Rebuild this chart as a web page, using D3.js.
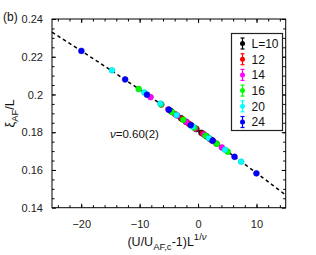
<!DOCTYPE html>
<html>
<head>
<meta charset="utf-8">
<script src="https://cdn.jsdelivr.net/npm/d3@7"></script>
<style>
    body { margin: 0; background: #fff; }
    svg { display: block; font-family: "Liberation Sans", Arial, sans-serif; }
</style>
</head>
<body>
<svg id="chart" width="316" height="255"></svg>
<script>
// system sizes and their colours (MATLAB style)
var sizes = [10, 12, 14, 16, 20, 24];
var labels = ['L=10', '12', '14', '16', '20', '24'];
var colors = ['#000000', '#ff0000', '#ff00ff', '#00ff00', '#00ffff', '#0000ff'];

// collapsed data, x = (U/U_AF,c - 1) L^(1/nu), y = xi_AF / L
var x10 = [-4.64, -2.90, -2.03, -1.16, -0.29, 0.58, 1.45, 2.32];
var y10 = [0.1912, 0.1874, 0.1855, 0.1836, 0.1817, 0.1797, 0.1778, 0.1759];
var x12 = [-6.29, -3.93, -2.75, -1.57, -0.39, 0.79, 1.97, 3.15];
var y12 = [0.1947, 0.1896, 0.1871, 0.1845, 0.1819, 0.1793, 0.1766, 0.1740];
var x14 = [-8.13, -5.08, -3.56, -2.03, -0.51, 1.02, 2.54, 4.07];
var y14 = [0.1986, 0.1921, 0.1888, 0.1855, 0.1821, 0.1788, 0.1754, 0.1719];
var x16 = [-10.16, -6.35, -4.45, -2.54, -0.64, 1.27, 3.18, 5.08];
var y16 = [0.2029, 0.1948, 0.1907, 0.1866, 0.1824, 0.1782, 0.1739, 0.1697];
var x20 = [-14.74, -9.21, -6.45, -3.69, -0.92, 1.84, 4.61, 7.37];
var y20 = [0.2128, 0.2011, 0.1952, 0.1891, 0.1830, 0.1769, 0.1707, 0.1644];
var x24 = [-19.97, -12.48, -8.74, -4.99, -1.25, 2.50, 6.24, 9.99];
var y24 = [0.2231, 0.2080, 0.1999, 0.1919, 0.1838, 0.1755, 0.1670, 0.1582];

// scaling fit (dashed curve)
var fitX = [-25, -20, -15, -10, -5, 0, 5, 10, 15];
var fitY = [0.2330, 0.2231, 0.2130, 0.2026, 0.1919, 0.1810, 0.1698, 0.1584, 0.1467];

var xTicks = [-20, -10, 0, 10];
var yTicks = [0.14, 0.16, 0.18, 0.2, 0.22, 0.24];
var yTickLabels = ['0.14', '0.16', '0.18', '0.2', '0.22', '0.24'];

var series = [
    {x: x10, y: y10}, {x: x12, y: y12}, {x: x14, y: y14},
    {x: x16, y: y16}, {x: x20, y: y20}, {x: x24, y: y24}
];

var svg = d3.select('#chart');
var pLeft = 52, pRight = 285.7, pTop = 19, pBottom = 207.7;

var x = d3.scaleLinear().domain([-25, 15]).range([pLeft, pRight]);
var y = d3.scaleLinear().domain([0.14, 0.24]).range([pBottom, pTop]);

function styleAxis(g) {
    g.select('.domain').remove();
    g.selectAll('line').attr('stroke', '#000').attr('stroke-width', 1);
    g.selectAll('text').attr('font-size', 11).attr('font-family', '"Liberation Sans", Arial, sans-serif').attr('fill', '#222');
}

var minorX = d3.range(-24, 15, 2);
var minorY = d3.range(0.145, 0.2401, 0.005);

// minor ticks, all four sides
svg.append('g').attr('transform', 'translate(0,' + pBottom + ')')
    .call(d3.axisBottom(x).tickValues(minorX).tickSize(-2.5).tickFormat('')).call(styleAxis);
svg.append('g').attr('transform', 'translate(0,' + pTop + ')')
    .call(d3.axisTop(x).tickValues(minorX).tickSize(-2.5).tickFormat('')).call(styleAxis);
svg.append('g').attr('transform', 'translate(' + pLeft + ',0)')
    .call(d3.axisLeft(y).tickValues(minorY).tickSize(-2.5).tickFormat('')).call(styleAxis);
svg.append('g').attr('transform', 'translate(' + pRight + ',0)')
    .call(d3.axisRight(y).tickValues(minorY).tickSize(-2.5).tickFormat('')).call(styleAxis);

// major ticks
svg.append('g').attr('transform', 'translate(0,' + pBottom + ')')
    .call(d3.axisBottom(x).tickValues(xTicks).tickSize(-4).tickPadding(13).tickFormat(d3.format('d')))
    .call(styleAxis);
svg.append('g').attr('transform', 'translate(0,' + pTop + ')')
    .call(d3.axisTop(x).tickValues(xTicks).tickSize(-4).tickFormat('')).call(styleAxis);
svg.append('g').attr('transform', 'translate(' + pLeft + ',0)')
    .call(d3.axisLeft(y).tickValues(yTicks).tickSize(-4).tickPadding(9)
        .tickFormat(function (d, i) { return yTickLabels[i]; }))
    .call(styleAxis);
svg.append('g').attr('transform', 'translate(' + pRight + ',0)')
    .call(d3.axisRight(y).tickValues(yTicks).tickSize(-4).tickFormat('')).call(styleAxis);

// frame
svg.append('rect')
    .attr('x', pLeft).attr('y', pTop)
    .attr('width', pRight - pLeft).attr('height', pBottom - pTop)
    .attr('fill', 'none').attr('stroke', '#000').attr('stroke-width', 1);

// fit line
var line = d3.line().curve(d3.curveMonotoneX)
    .x(function (d) { return x(d[0]); })
    .y(function (d) { return y(d[1]); });
svg.append('path')
    .datum(d3.zip(fitX, fitY))
    .attr('d', line)
    .attr('fill', 'none')
    .attr('stroke', '#000')
    .attr('stroke-width', 1.5)
    .attr('stroke-dasharray', '3.5,3');

// data points
series.forEach(function (s, i) {
    svg.append('g').selectAll('circle')
        .data(d3.zip(s.x, s.y))
        .enter().append('circle')
        .attr('cx', function (d) { return x(d[0]); })
        .attr('cy', function (d) { return y(d[1]); })
        .attr('r', 2.9)
        .attr('fill', colors[i])
        .attr('stroke', d3.color(colors[i]).darker(0.6))
        .attr('stroke-width', 0.6);
});

// legend
var lg = svg.append('g');
lg.append('rect')
    .attr('x', 231.5).attr('y', 33.5).attr('width', 51).attr('height', 97)
    .attr('fill', '#fff').attr('stroke', '#222').attr('stroke-width', 1.2);
var item = lg.selectAll('.item')
    .data(sizes)
    .enter().append('g')
    .attr('transform', function (d, i) { return 'translate(242.5,' + (43.5 + i * 15.7) + ')'; });
item.append('line')
    .attr('y1', -5.5).attr('y2', 5.5)
    .attr('stroke', function (d, i) { return colors[i]; }).attr('stroke-width', 1.2);
item.append('line')
    .attr('x1', -2).attr('x2', 2).attr('y1', -5.5).attr('y2', -5.5)
    .attr('stroke', function (d, i) { return colors[i]; }).attr('stroke-width', 1.2);
item.append('line')
    .attr('x1', -2).attr('x2', 2).attr('y1', 5.5).attr('y2', 5.5)
    .attr('stroke', function (d, i) { return colors[i]; }).attr('stroke-width', 1.2);
item.append('circle')
    .attr('r', 2.5)
    .attr('fill', function (d, i) { return colors[i]; });
item.append('text')
    .attr('x', 9).attr('y', 4.3)
    .attr('font-size', 12).attr('fill', '#111')
    .text(function (d, i) { return labels[i]; });

// panel label and annotation
svg.append('text').attr('x', 3).attr('y', 21).attr('font-size', 12).attr('fill', '#111').text('(b)');

var ann = svg.append('text').attr('x', 110).attr('y', 138).attr('font-size', 11.5).attr('fill', '#111');
ann.append('tspan').attr('font-style', 'italic').text('ν');
ann.append('tspan').text('=0.60(2)');

// x label
var xl = svg.append('text').attr('x', 167).attr('y', 246).attr('text-anchor', 'middle')
    .attr('font-size', 12.5).attr('fill', '#111');
xl.append('tspan').text('(U/U');
xl.append('tspan').attr('dy', 3.5).attr('font-size', 9.5).text('AF,c');
xl.append('tspan').attr('dy', -3.5).text('-1)L');
xl.append('tspan').attr('dy', -6).attr('font-size', 9.5).text('1/');
xl.append('tspan').attr('font-size', 9.5).attr('font-style', 'italic').text('ν');

// y label
var yl = svg.append('text')
    .attr('transform', 'translate(14,' + ((pTop + pBottom) / 2) + ') rotate(-90)')
    .attr('text-anchor', 'middle').attr('font-size', 12.5).attr('fill', '#111');
yl.append('tspan').text('ξ');
yl.append('tspan').attr('dy', 3.5).attr('font-size', 9.5).text('AF');
yl.append('tspan').attr('dy', -3.5).text('/L');
</script>
</body>
</html>
